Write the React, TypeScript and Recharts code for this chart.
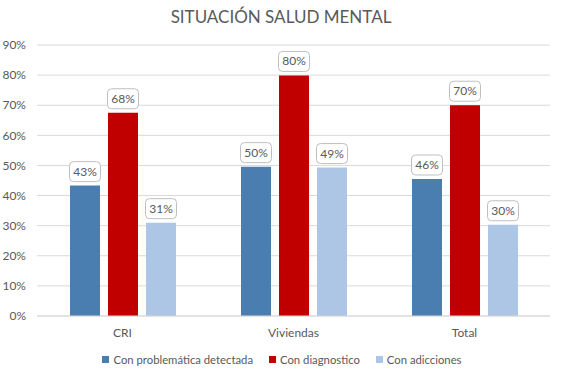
import { BarChart, Bar, XAxis, YAxis, CartesianGrid, Legend, LabelList } from "recharts";

const categories = ["CRI", "Viviendas", "Total"];
const problematica = [43.3, 49.6, 45.5];
const diagnostico = [67.5, 79.9, 70];
const adicciones = [31, 49.3, 30.3];
const yTicks = [0, 10, 20, 30, 40, 50, 60, 70, 80, 90];

const data = categories.map((name, i) => ({
  name,
  problematica: problematica[i],
  diagnostico: diagnostico[i],
  adicciones: adicciones[i],
}));

const series = [
  { key: "problematica", label: "Con problemática detectada", color: "#4a7eb1" },
  { key: "diagnostico", label: "Con diagnostico", color: "#c00000" },
  { key: "adicciones", label: "Con adicciones", color: "#adc6e6" },
];

const FONT = "Lato, 'Noto Sans', sans-serif";
const TEXT = "#595959";

const BoxLabel = (props: any) => {
  const { x, y, width, value } = props;
  const w = 31;
  const h = 20;
  const cx = x + width / 2;
  const top = y - 4 - h;
  return (
    <g>
      <rect x={cx - w / 2} y={top} width={w} height={h} rx={4} ry={4} fill="#fff" stroke="#bfbfbf" strokeWidth={1} />
      <text x={cx} y={top + h / 2 + 4} textAnchor="middle" fontSize={12} fill={TEXT} fontFamily={FONT}>
        {Math.round(value)}%
      </text>
    </g>
  );
};

const LegendContent = () => (
  <div style={{ display: "flex", justifyContent: "center", gap: 16, fontFamily: FONT, fontSize: 11.3, color: TEXT, height: 31, alignItems: "center", paddingLeft: 14 }}>
    {series.map((s) => (
      <div key={s.key} style={{ display: "flex", alignItems: "center", gap: 4 }}>
        <span style={{ width: 7, height: 7, background: s.color, display: "inline-block" }} />
        <span>{s.label}</span>
      </div>
    ))}
  </div>
);

export default function App() {
  return (
    <div style={{ position: "absolute", left: 0, top: 0, width: 562, height: 375, background: "#fff" }}>
      <div style={{ position: "absolute", top: 6, left: 0, width: 562, textAlign: "center", fontFamily: FONT, fontSize: 17, color: TEXT }}>
        SITUACIÓN SALUD MENTAL
      </div>
      <BarChart width={562} height={375} data={data} margin={{ top: 45, right: 12, left: 0, bottom: 0 }} barGap={8} barCategoryGap={32}>
        <CartesianGrid vertical={false} stroke="#d9d9d9" />
        <XAxis
          dataKey="name"
          tick={{ fill: TEXT, fontSize: 12, fontFamily: FONT }}
          tickLine={false}
          axisLine={{ stroke: "#d9d9d9" }}
          height={28}
          tickMargin={6}
        />
        <YAxis
          width={37}
          domain={[0, 90]}
          ticks={yTicks}
          tickFormatter={(v) => `${v}%`}
          tick={{ fill: TEXT, fontSize: 12, fontFamily: FONT }}
          tickLine={false}
          axisLine={false}
          tickMargin={5}
        />
        <Legend verticalAlign="bottom" content={<LegendContent />} />
        {series.map((s) => (
          <Bar key={s.key} dataKey={s.key} fill={s.color} barSize={30} isAnimationActive={false}>
            <LabelList dataKey={s.key} content={<BoxLabel />} />
          </Bar>
        ))}
      </BarChart>
    </div>
  );
}
